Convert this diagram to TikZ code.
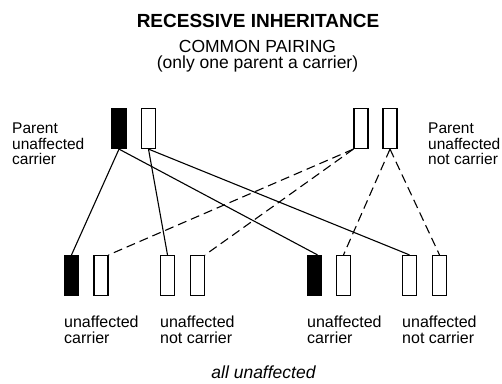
\documentclass[tikz,border=0pt]{standalone}
\usepackage{fontspec}
\setmainfont{Liberation Sans}
\begin{document}
\begin{tikzpicture}[x=1pt,y=-1pt,
  gene/.style={draw, line width=1.2pt, minimum width=14pt, minimum height=40pt, inner sep=0pt, fill=white},
  carrier/.style={gene, fill=black},
  link/.style={line width=1.1pt},
  dlink/.style={line width=1.1pt, dash pattern=on 9pt off 5pt},
  lbl/.style={align=left, inner sep=0pt, anchor=north west, font=\fontsize{15.5}{15.2}\selectfont},
  clbl/.style={align=left, inner sep=0pt, anchor=north west, font=\fontsize{16}{15.5}\selectfont}]
\useasboundingbox (0,0) rectangle (502,383);
% titles
\node[anchor=base, inner sep=0pt, font=\fontsize{19}{19}\selectfont\bfseries] (title) at (258,27) {RECESSIVE INHERITANCE};
\node[anchor=base, inner sep=0pt, font=\fontsize{17.5}{17.5}\selectfont] (sub1) at (257.5,52) {COMMON PAIRING};
\node[anchor=base, inner sep=0pt, font=\fontsize{17.5}{17.5}\selectfont] (sub2) at (257.5,68) {(only one parent a carrier)};
% parents
\node[carrier] (pA) at (119,128.5) {};
\node[gene] (pB) at (148.5,128.5) {};
\node[gene] (pC) at (361,128.5) {};
\node[gene] (pD) at (390,128.5) {};
% children
\node[carrier] (c1) at (71.5,275.5) {};
\node[gene] (c2) at (101,275.5) {};
\node[gene] (c3) at (167.5,275.5) {};
\node[gene] (c4) at (197.5,275.5) {};
\node[carrier] (c5) at (314.5,275.5) {};
\node[gene] (c6) at (343.5,275.5) {};
\node[gene] (c7) at (409.5,275.5) {};
\node[gene] (c8) at (439.5,275.5) {};
% connectors
\draw[link] (pA.south) -- (c1.north);
\draw[link] (pA.south) -- ([xshift=3pt]c5.north);
\draw[link] (pB.south) -- (c3.north);
\draw[link] (pB.south) -- (c7.north);
\draw[dlink] (pC.south west) -- (c2.north east);
\draw[dlink] (pC.south west) -- (c4.north east);
\draw[dlink] (pD.south) -- (c6.north);
\draw[dlink] (pD.south) -- (c8.north);
% labels
\node[lbl] (lp) at (12,123) {Parent\\unaffected\\carrier};
\node[lbl] (rp) at (428,123) {Parent\\unaffected\\not carrier};
\node[clbl] (l1) at (64,316) {unaffected\\carrier};
\node[clbl] (l2) at (160,316) {unaffected\\not carrier};
\node[clbl] (l3) at (307,316) {unaffected\\carrier};
\node[clbl] (l4) at (402,316) {unaffected\\not carrier};
\node[anchor=base, inner sep=0pt, font=\fontsize{17.5}{17.5}\selectfont\itshape] (all) at (263.5,378) {all unaffected};
\end{tikzpicture}
\end{document}
